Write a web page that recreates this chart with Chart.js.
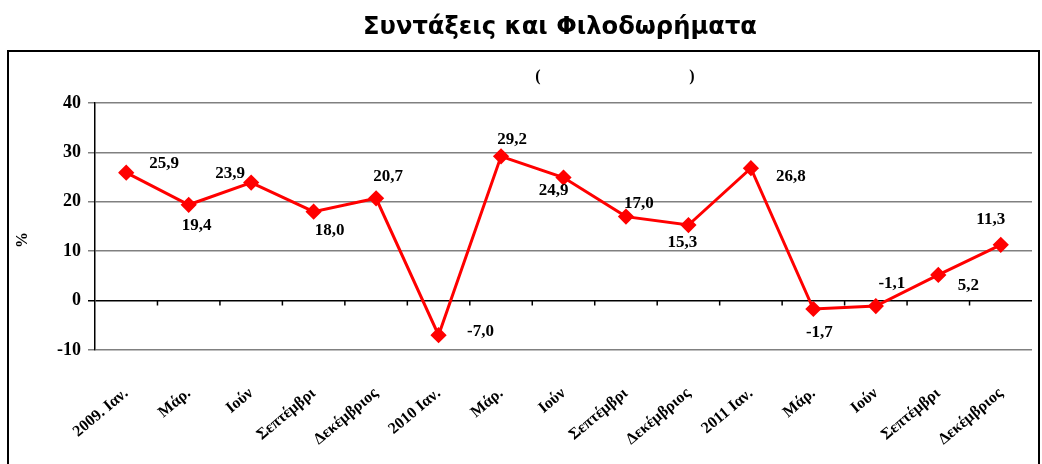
<!DOCTYPE html>
<html>
<head>
<meta charset="utf-8">
<script src="https://cdn.jsdelivr.net/npm/chart.js@4.4.0/dist/chart.umd.min.js"></script>
<style>
body{margin:0;background:#fff;}
#wrap{width:1042px;height:464px;}
</style>
</head>
<body>
<div id="wrap"><canvas id="myChart" width="1042" height="464"></canvas></div>
<script>
var months = ['2009. Ιαν.','Μάρ.','Ιούν','Σεπτέμβρι','Δεκέμβριος','2010 Ιαν.','Μάρ.','Ιούν','Σεπτέμβρι','Δεκέμβριος','2011 Ιαν.','Μάρ.','Ιούν','Σεπτέμβρι','Δεκέμβριος'];
var changes = [25.9,19.4,23.9,18.0,20.7,-7.0,29.2,24.9,17.0,15.3,26.8,-1.7,-1.1,5.2,11.3];
var yTicks = [-10,0,10,20,30,40];
var chartTitle = 'Συντάξεις και Φιλοδωρήματα';
var yTitle = '%';

// where each value label sits relative to its point
var labelShift = [[38,-9],[8,21],[-21,-9],[16,19],[12,-22],[42,-4],[11,-17],[-10,13],[13,-13],[-6,18],[40,8],[6,24],[16,-22],[30,11],[-10,-25]];

var serif = '"Liberation Serif", "Times New Roman", serif';

var decor = {
    id: 'decor',
    beforeDraw: function(chart) {
        var ctx = chart.ctx;
        ctx.save();
        ctx.fillStyle = '#fff';
        ctx.fillRect(0, 0, chart.width, chart.height);
        ctx.strokeStyle = '#000';
        ctx.lineWidth = 2;
        ctx.strokeRect(8, 51, 1031, 440);

        // title, squeezed to the original width
        ctx.fillStyle = '#000';
        ctx.font = 'bold 22px "DejaVu Sans", sans-serif';
        ctx.textAlign = 'center';
        ctx.textBaseline = 'middle';
        var w = ctx.measureText(chartTitle).width;
        ctx.save();
        ctx.translate(560, 28);
        ctx.scale(394 / w, 1.1);
        ctx.fillText(chartTitle, 0, 0);
        ctx.restore();

        // empty subtitle brackets
        ctx.font = 'bold 16px ' + serif;
        ctx.fillText('(', 538, 77);
        ctx.fillText(')', 692, 77);

        // y axis title
        ctx.save();
        ctx.translate(23, 240);
        ctx.rotate(-Math.PI / 2);
        ctx.fillText(yTitle, 0, 0);
        ctx.restore();
        ctx.restore();
    },
    beforeDatasetsDraw: function(chart) {
        // small category ticks on the zero line
        var ctx = chart.ctx;
        var xs = chart.scales.x, ys = chart.scales.y;
        var y0 = ys.getPixelForValue(0);
        ctx.save();
        ctx.strokeStyle = '#000';
        ctx.lineWidth = 1.5;
        ctx.beginPath();
        for (var i = 1; i < months.length; i++) {
            var x = (xs.getPixelForValue(i - 1) + xs.getPixelForValue(i)) / 2;
            ctx.moveTo(x, y0);
            ctx.lineTo(x, y0 + 5);
        }
        ctx.stroke();
        ctx.restore();
    },
    afterDatasetsDraw: function(chart) {
        var ctx = chart.ctx;
        var pts = chart.getDatasetMeta(0).data;
        ctx.save();
        ctx.fillStyle = '#000';
        ctx.font = 'bold 17px ' + serif;
        ctx.textAlign = 'center';
        ctx.textBaseline = 'middle';
        for (var i = 0; i < pts.length; i++) {
            var txt = changes[i].toFixed(1).replace('.', ',');
            ctx.fillText(txt, pts[i].x + labelShift[i][0], pts[i].y + labelShift[i][1]);
        }
        ctx.restore();
    }
};

var chartData = {
    labels: months,
    datasets: [
        {
            label: 'Συντάξεις και Φιλοδωρήματα',
            data: changes,
            borderColor: '#ff0000',
            backgroundColor: '#ff0000',
            borderWidth: 3,
            pointStyle: 'rectRot',
            pointRadius: 6,
            pointHoverRadius: 6,
            pointBackgroundColor: '#ff0000',
            pointBorderColor: '#ff0000',
            tension: 0
        }
    ]
};

var lineGraph = new Chart(document.getElementById('myChart'), {
    type: 'line',
    data: chartData,
    options: {
        responsive: false,
        animation: false,
        layout: { padding: { left: 0, right: 10, top: 103, bottom: 0 } },
        plugins: {
            legend: { display: false },
            title: { display: false },
            tooltip: { enabled: false }
        },
        scales: {
            x: {
                offset: true,
                afterFit: function(scale) { scale.height = 114; },
                grid: { display: false },
                border: { display: false },
                ticks: {
                    autoSkip: false,
                    maxRotation: 40,
                    minRotation: 40,
                    padding: 26,
                    color: '#000',
                    font: { family: serif, size: 16, weight: 'bold' }
                }
            },
            y: {
                min: -10,
                max: 40,
                afterFit: function(scale) { scale.width = 95; },
                afterBuildTicks: function(scale) {
                    scale.ticks = yTicks.map(function(v) { return { value: v }; });
                },
                grid: {
                    color: function(c) { return c.tick && c.tick.value === 0 ? '#000' : '#808080'; },
                    lineWidth: 1.5,
                    tickLength: 7,
                    drawTicks: true
                },
                border: { display: true, color: '#000', width: 1.5 },
                ticks: {
                    padding: 7,
                    color: '#000',
                    font: { family: serif, size: 18, weight: 'bold' }
                }
            }
        }
    },
    plugins: [decor]
});
</script>
</body>
</html>
